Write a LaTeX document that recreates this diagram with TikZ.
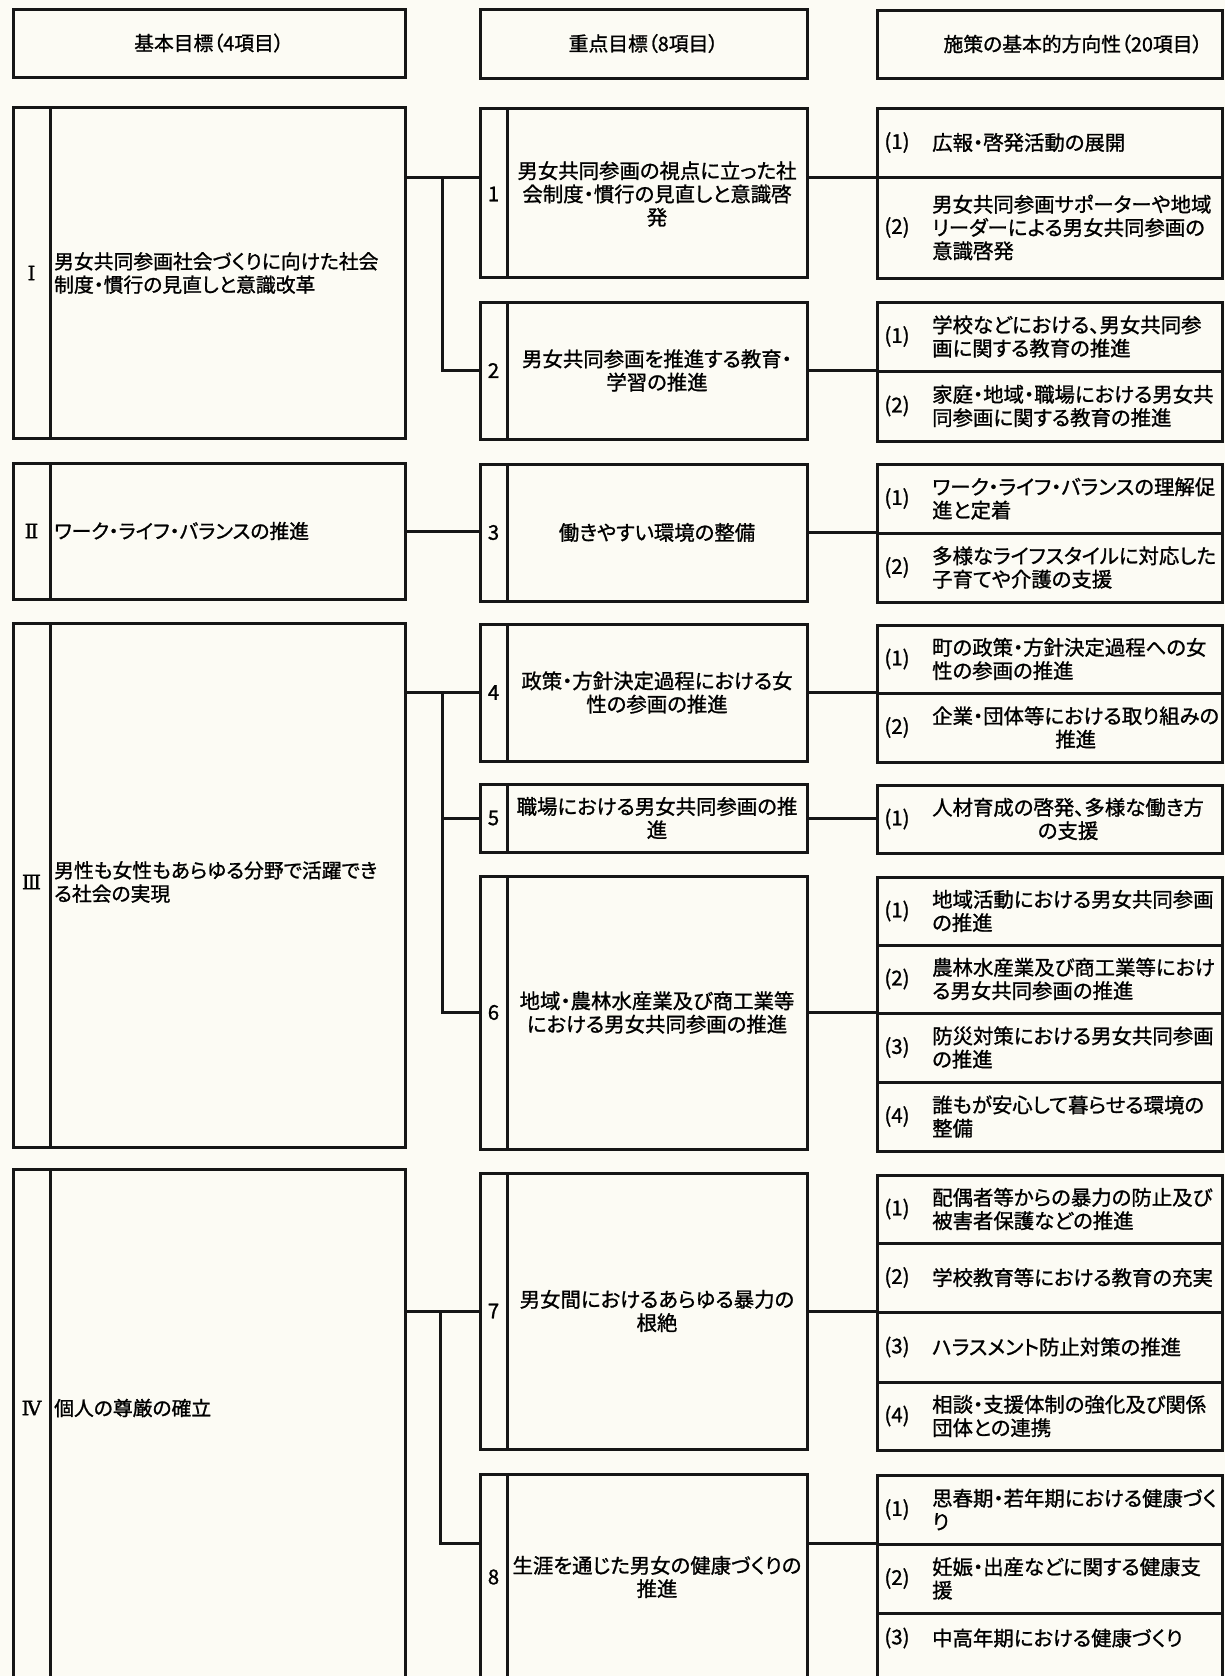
\documentclass[tikz,border=0pt]{standalone}
\usepackage{fontspec}
\newfontfamily\jp[RawFeature=+palt,FakeBold=1.1]{Noto Sans CJK JP}
\newfontfamily\rn[FakeBold=1.5]{DejaVu Serif}
\usetikzlibrary{fit,calc}
\definecolor{paper}{RGB}{252,251,244}
\definecolor{ink}{RGB}{22,22,22}
\newcommand\leftblk[6]{%
  \node[frame, fit={(13,#2)(50,#3)}] (#1n) {};
  \node[frame, fit={(50,#2)(405,#3)}] (#1t) {};
  \node[jtr] (#1nl) at (31.5,#6) {#4};
  \node[jtl, anchor=west, align=left] (#1tl) at (54,#6) {#5};
}
\newcommand\midblk[6]{%
  \node[frame, fit={(480,#2)(507,#3)}] (#1n) {};
  \node[frame, fit={(507,#2)(807,#3)}] (#1t) {};
  \node[jt] (#1nl) at (493.5,#6) {#4};
  \node[jt, align=center] (#1tl) at (657,#6) {#5};
}
\newcommand\rightrow[7]{%
  \node[frame, fit={(877,#2)(1222,#3)}] (#1) {};
  \node[jt] (#1l) at (897,#7) {#4};
  \node[jt, anchor=west, align=#6] (#1t) at (932,#7) {#5};
}
\begin{document}
\begin{tikzpicture}[x=1pt,y=-1pt,
  frame/.style={draw=ink, line width=3pt, inner sep=0pt, outer sep=0pt, rectangle},
  jt/.style={font=\jp\fontsize{20.4}{23.3}\selectfont, inner sep=0pt, text=black},
  jtl/.style={font=\jp\fontsize{19.8}{23.3}\selectfont, inner sep=0pt, text=black},
  jtr/.style={font=\rn\fontsize{19.8}{23.3}\selectfont, inner sep=0pt, text=black},
  jth/.style={font=\jp\fontsize{19.8}{23}\selectfont, inner sep=0pt, text=black},
  link/.style={draw=ink, line width=3pt},
]
\fill[paper] (0,0) rectangle (1225,1676);
\useasboundingbox (0,0) rectangle (1225,1676);

% headers
\node[frame, fit={(13,9)(405,77)}] (H1) {};
\node[jth] (H1l) at (H1.center) {基本目標（4項目）};
\node[frame, fit={(480,9)(807,78)}] (H2) {};
\node[jth] (H2l) at (H2.center) {重点目標（8項目）};
\node[frame, fit={(877,10)(1222,78)}] (H3) {};
\node[jth] (H3l) at (1073,44) {施策の基本的方向性（20項目）};

% basic goals
\leftblk{A1}{107}{438}{Ⅰ}{男女共同参画社会づくりに向けた社会\\制度・慣行の見直しと意識改革}{273}
\leftblk{A2}{463}{599}{Ⅱ}{ワーク・ライフ・バランスの推進}{531}
\leftblk{A3}{623}{1147}{Ⅲ}{男性も女性もあらゆる分野で活躍でき\\る社会の実現}{882}
\leftblk{A4}{1169}{1720}{Ⅳ}{個人の尊厳の確立}{1408}

% priority goals
\midblk{B1}{108}{277}{1}{男女共同参画の視点に立った社\\会制度・慣行の見直しと意識啓\\発}{194}
\midblk{B2}{302}{439}{2}{男女共同参画を推進する教育・\\学習の推進}{370.5}
\midblk{B3}{464}{601}{3}{働きやすい環境の整備}{532.5}
\midblk{B4}{624}{761}{4}{政策・方針決定過程における女\\性の参画の推進}{692.5}
\midblk{B5}{784}{852}{5}{職場における男女共同参画の推\\進}{818}
\midblk{B6}{876}{1149}{6}{地域・農林水産業及び商工業等\\における男女共同参画の推進}{1012.5}
\midblk{B7}{1173}{1449}{7}{男女間におけるあらゆる暴力の\\根絶}{1311}
\midblk{B8}{1474}{1720}{8}{生涯を通じた男女の健康づくりの\\推進}{1577}

% policy directions
\rightrow{C1a}{108}{177}{(1)}{広報・啓発活動の展開}{left}{142.5}
\rightrow{C1b}{177}{278}{(2)}{男女共同参画サポーターや地域\\リーダーによる男女共同参画の\\意識啓発}{left}{227.5}
\rightrow{C2a}{302}{371}{(1)}{学校などにおける、男女共同参\\画に関する教育の推進}{left}{336.5}
\rightrow{C2b}{371}{441}{(2)}{家庭・地域・職場における男女共\\同参画に関する教育の推進}{left}{406}
\rightrow{C3a}{464}{533}{(1)}{ワーク・ライフ・バランスの理解促\\進と定着}{left}{498.5}
\rightrow{C3b}{533}{602}{(2)}{多様なライフスタイルに対応した\\子育てや介護の支援}{left}{567.5}
\rightrow{C4a}{625}{693}{(1)}{町の政策・方針決定過程への女\\性の参画の推進}{left}{659}
\rightrow{C4b}{693}{762}{(2)}{企業・団体等における取り組みの\\推進}{center}{727.5}
\rightrow{C5a}{785}{853}{(1)}{人材育成の啓発、多様な働き方\\の支援}{center}{819}
\rightrow{C6a}{877}{945}{(1)}{地域活動における男女共同参画\\の推進}{left}{911}
\rightrow{C6b}{945}{1013}{(2)}{農林水産業及び商工業等におけ\\る男女共同参画の推進}{left}{979}
\rightrow{C6c}{1013}{1082}{(3)}{防災対策における男女共同参画\\の推進}{left}{1047.5}
\rightrow{C6d}{1082}{1151}{(4)}{誰もが安心して暮らせる環境の\\整備}{left}{1116.5}
\rightrow{C7a}{1175}{1243}{(1)}{配偶者等からの暴力の防止及び\\被害者保護などの推進}{left}{1209}
\rightrow{C7b}{1243}{1312}{(2)}{学校教育等における教育の充実}{left}{1277.5}
\rightrow{C7c}{1312}{1382}{(3)}{ハラスメント防止対策の推進}{left}{1347}
\rightrow{C7d}{1382}{1450}{(4)}{相談・支援体制の強化及び関係\\団体との連携}{left}{1416}
\rightrow{C8a}{1475}{1544}{(1)}{思春期・若年期における健康づく\\り}{left}{1509.5}
\rightrow{C8b}{1544}{1613}{(2)}{妊娠・出産などに関する健康支\\援}{left}{1578.5}
\rightrow{C8c}{1613}{1720}{(3)}{中高年期における健康づくり}{left}{1638}

% connectors
\coordinate (j1) at (442,177);
\draw[link] (A1t.east |- j1) -- (B1n.west |- j1);
\draw[link] (j1) |- (B2n.west);
\draw[link] (B1t.east |- j1) -- (j1 -| C1a.west);
\draw[link] (B2t.east) -- (B2t.east -| C2a.west);
\draw[link] (A2t.east) -- (A2t.east -| B3n.west);
\draw[link] (B3t.east) -- (B3t.east -| C3a.west);
\coordinate (j3) at (442,692.5);
\draw[link] (A3t.east |- j3) -- (B4n.west);
\draw[link] (j3) |- (B5n.west);
\draw[link] (j3) |- (B6n.west);
\draw[link] (B4t.east) -- (B4t.east -| C4a.west);
\draw[link] (B5t.east) -- (B5t.east -| C5a.west);
\draw[link] (B6t.east) -- (B6t.east -| C6b.west);
\coordinate (j4) at (440,1311);
\coordinate (j5) at (440,1543.5);
\draw[link] (A4t.east |- j4) -- (B7n.west);
\draw[link] (j4) -- (j5) -- (B8n.west |- j5);
\draw[link] (B7t.east) -- (B7t.east -| C7b.west);
\draw[link] (B8t.east |- j5) -- (j5 -| C8a.west);
\end{tikzpicture}
\end{document}
